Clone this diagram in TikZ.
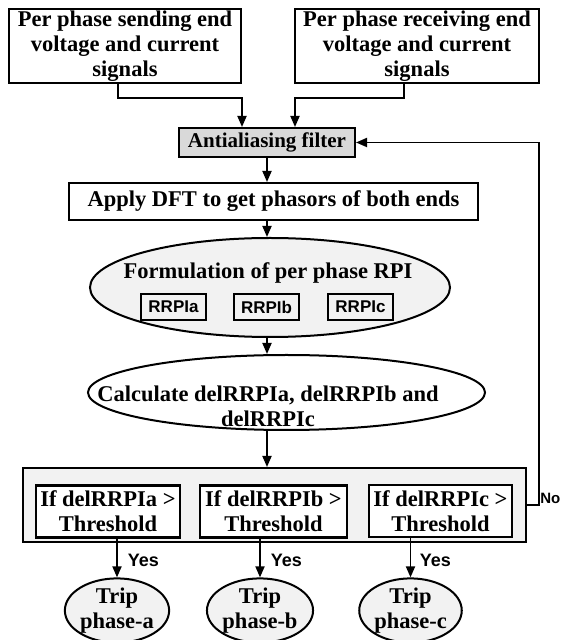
\documentclass[tikz,border=0pt]{standalone}
\usepackage{fontspec}
\setmainfont{Liberation Serif}
\setsansfont{Liberation Sans}
\usetikzlibrary{arrows.meta,shapes.geometric}
\definecolor{filtergray}{RGB}{217,217,217}
\definecolor{palegray}{RGB}{242,242,242}
\begin{document}
\begin{tikzpicture}[x=1pt, y=1pt, line width=1.8pt,
  every node/.style={inner sep=1pt, font=\fontsize{22.5}{25}\selectfont\bfseries},
  blk/.style={draw, line width=2pt, align=center},
  oval/.style={draw, ellipse, line width=2pt, fill=palegray, align=center, inner sep=0pt},
  tag/.style={draw, line width=1.8pt, font=\sffamily\bfseries\fontsize{17}{20}\selectfont, minimum width=65, minimum height=26},
  lbl/.style={font=\sffamily\bfseries\fontsize{18}{20}\selectfont},
  arr/.style={-{Triangle[length=11pt,width=9pt]}, line width=1.8pt}]
  \useasboundingbox (0,0) rectangle (561,640);
  \node[blk, minimum width=232, minimum height=74] (send) at (125,594) {Per phase sending end\\voltage and current\\signals};
  \node[blk, minimum width=244, minimum height=74] (recv) at (417,594) {Per phase receiving end\\voltage and current\\signals};
  \node[blk, fill=filtergray, minimum width=176, minimum height=29, font=\fontsize{21}{25}\selectfont\bfseries] (filter) at (267,497.5) {Antialiasing filter};
  \node[blk, minimum width=409, minimum height=37] (dft) at (273.5,438.5) {Apply DFT to get phasors of both ends};
  \node[oval, minimum width=360, minimum height=99] (rpi) at (270,352.5) {};
  \node (rpititle) at (268,367) {Formulation of per phase RPI};
  \node[tag] (rrpia) at (173.5,333) {RRPIa};
  \node[tag] (rrpib) at (266.5,333) {RRPIb};
  \node[tag] (rrpic) at (360.5,333) {RRPIc};
  \node[oval, fill=white, minimum width=397, minimum height=75] (delta) at (286.5,247.5) {};
  \node[align=center] (deltatext) at (268,234) {Calculate delRRPIa, delRRPIb and\\delRRPIc};
  \node[blk, fill=palegray, minimum width=503, minimum height=74] (check) at (274.5,135) {};
  \node[blk, fill=white, line width=2.2pt, minimum width=144, minimum height=52] (chka) at (108,128.5) {If delRRPIa >\\Threshold};
  \node[blk, fill=white, line width=2.2pt, minimum width=147, minimum height=52] (chkb) at (273.5,128.5) {If delRRPIb >\\Threshold};
  \node[blk, fill=white, line width=2.2pt, minimum width=143, minimum height=52] (chkc) at (440.5,129) {If delRRPIc >\\Threshold};
  \node[oval, minimum width=94, minimum height=55] (tripa) at (117,29.5) {Trip\\phase-a};
  \node[oval, minimum width=96, minimum height=55] (tripb) at (260,29.5) {Trip\\phase-b};
  \node[oval, minimum width=95, minimum height=55] (tripc) at (410.5,29.5) {Trip\\phase-c};
  \draw[arr] ([xshift=-7]send.south) -- ++(0,-14) -| ([xshift=-25]filter.north);
  \draw[arr] ([xshift=-13]recv.south) -- ++(0,-14) -| ([xshift=28]filter.north);
  \draw[arr] (filter.south) -- (filter |- dft.north);
  \draw[arr] (filter |- dft.south) -- (filter |- rpi.north);
  \draw[arr] (filter |- rpi.south) -- (filter |- delta.north);
  \draw[arr] (filter |- delta.south) -- (filter |- check.north);
  \draw[arr] (chka.south -| tripa) -- (tripa.north);
  \draw[arr] (chkb.south -| tripb) -- (tripb.north);
  \draw[arr] (chkc.south -| tripc) -- (tripc.north);
  \node[lbl, anchor=west] (yesa) at (126,80) {Yes};
  \node[lbl, anchor=west] (yesb) at (269,80) {Yes};
  \node[lbl, anchor=west] (yesc) at (418,80) {Yes};
  \coordinate (noturn) at (539,135);
  \draw[arr] (check.east) -- (noturn) |- (filter.east);
  \node[lbl, anchor=south west, inner sep=0.5pt, font=\sffamily\bfseries\fontsize{15}{18}\selectfont] (no) at (noturn) {No};
\end{tikzpicture}
\end{document}
